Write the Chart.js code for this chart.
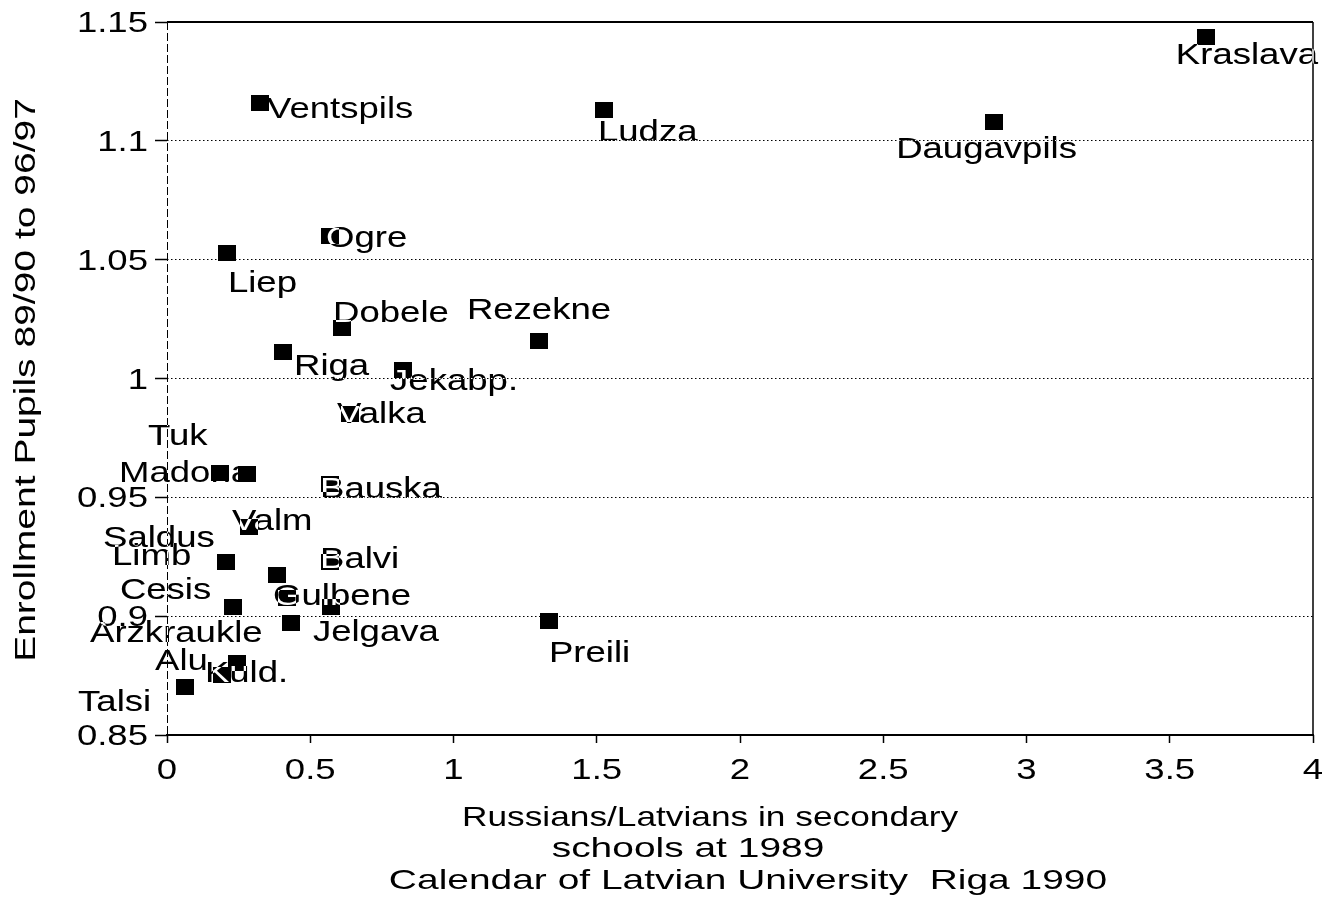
<!DOCTYPE html>
<html>
<head>
<meta charset="utf-8">
<title>Enrollment change vs Russian/Latvian ratio</title>
<script src="https://cdn.jsdelivr.net/npm/chart.js@4.4.1/dist/chart.umd.min.js"></script>
<style>
  html, body { margin: 0; padding: 0; background: #fff; }
  canvas { display: block; }
</style>
</head>
<body>
<canvas id="chart" width="1338" height="905"></canvas>
<script>
// District names as printed beside each marker
const districts = [
  'Kraslava', 'Ventspils', 'Ludza', 'Daugavpils', 'Ogre', 'Liep', 'Dobele',
  'Rezekne', 'Riga', 'Jekabp.', 'Valka', 'Madona', 'Tuk', 'Bauska', 'Valm',
  'Limb', 'Balvi', 'Saldus', 'Gulbene', 'Cesis', 'Jelgava', 'Arzkraukle',
  'Kuld.', 'Alu', 'Talsi', 'Preili'
];

// Russians/Latvians in secondary schools, 1989
const russianRatio = [
  3.626, 0.325, 1.525, 2.887, 0.569, 0.209, 0.611,
  1.298, 0.405, 0.824, 0.639, 0.185, 0.279, 0.569, 0.286,
  0.206, 0.569, 0.384, 0.419, 0.230, 0.572, 0.433,
  0.244, 0.192, 0.063, 1.333
];

// Enrollment ratio, pupils 89/90 to 96/97
const enrollmentChange = [
  1.1437, 1.1159, 1.1130, 1.1079, 1.0600, 1.0528, 1.0213,
  1.0158, 1.0112, 1.0036, 0.9851, 0.9602, 0.9598, 0.9556, 0.9375,
  0.9228, 0.9228, 0.9173, 0.9076, 0.9039, 0.9039, 0.8971,
  0.8803, 0.8753, 0.8702, 0.8980
];

const xTicks = [0, 0.5, 1, 1.5, 2, 2.5, 3, 3.5, 4];
const xTickLabels = ['0', '0.5', '1', '1.5', '2', '2.5', '3', '3.5', '4'];
const yTicks = [0.85, 0.9, 0.95, 1, 1.05, 1.1, 1.15];
const yTickLabels = ['0.85', '0.9', '0.95', '1', '1.05', '1.1', '1.15'];

const xTitleLines = [
  'Russians/Latvians in secondary',
  'schools at 1989',
  'Calendar of Latvian University  Riga 1990'
];
const yTitle = 'Enrollment Pupils 89/90 to 96/97';

// Label placement relative to each marker: [dx to left edge, dy to baseline] in px
const labelOffsets = [
  [-30, 27], [7, 15], [-6, 31], [-98, 36], [-4, 11], [1, 39], [-9, -6],
  [-72, -22], [11, 23], [-13, 20], [-13, 9], [-101, 9], [-99, -29], [-10, 14], [-17, 3],
  [-114, 3], [-10, 6], [-174, -28], [-14, 7], [-113, -8], [-18, 34], [-201, 19],
  [-32, 19], [-67, -5], [-107, 24], [0, 41]
];
// Names set beneath the markers (covered) rather than inverted over them
const labelsUnderMarkers = ['Ventspils', 'Madona', 'Alu'];

const FONT = '"Liberation Sans", Arial, Helvetica, sans-serif';
const STRETCH = 1.26;   // the printed typeface is wide; widen glyphs horizontally

// Filled square marker, slightly wider than tall
const marker = document.createElement('canvas');
marker.width = 18; marker.height = 16;
(function () {
  const m = marker.getContext('2d');
  m.fillStyle = '#000';
  m.fillRect(0, 0, 18, 16);
})();

function wideText(ctx, text, x, y, size, align, baseline, sx) {
  ctx.save();
  ctx.font = size + 'px ' + FONT;
  ctx.textAlign = align;
  ctx.textBaseline = baseline;
  ctx.translate(x, y);
  ctx.scale(sx || STRETCH, 1);
  ctx.fillText(text, 0, 0);
  ctx.restore();
}

const paperPlugin = {
  id: 'paper',
  beforeDraw(chart) {
    const ctx = chart.ctx;
    ctx.save();
    ctx.fillStyle = '#fff';
    ctx.fillRect(0, 0, chart.width, chart.height);
    ctx.restore();
  }
};

const framePlugin = {
  id: 'frame',
  beforeDatasetsDraw(chart) {
    const { ctx, chartArea: a } = chart;
    ctx.save();
    ctx.strokeStyle = '#000';
    // top and bottom
    ctx.lineWidth = 2;
    ctx.beginPath();
    ctx.moveTo(a.left, a.top); ctx.lineTo(a.right, a.top);
    ctx.moveTo(a.left - 1, a.bottom); ctx.lineTo(a.right + 1, a.bottom);
    ctx.stroke();
    // right
    ctx.lineWidth = 1.5;
    ctx.beginPath();
    ctx.moveTo(a.right, a.top); ctx.lineTo(a.right, a.bottom);
    ctx.stroke();
    // left axis, broken line
    ctx.lineWidth = 1;
    ctx.setLineDash([8, 3]);
    ctx.beginPath();
    ctx.moveTo(a.left + 0.5, a.top); ctx.lineTo(a.left + 0.5, a.bottom);
    ctx.stroke();
    ctx.restore();

    // tick labels and axis titles
    ctx.save();
    ctx.fillStyle = '#000';
    const xs = chart.scales.x, ys = chart.scales.y;
    yTicks.forEach((v, i) => {
      wideText(ctx, yTickLabels[i], a.left - 19, ys.getPixelForValue(v) + 2, 29, 'right', 'middle');
    });
    xTicks.forEach((v, i) => {
      wideText(ctx, xTickLabels[i], xs.getPixelForValue(v), a.bottom + 44, 29, 'center', 'alphabetic');
    });
    const centers = [710, 688, 748];
    const baselines = [826, 857, 889];
    const widen = [1.26, 1.39, 1.39];
    xTitleLines.forEach((t, i) => {
      wideText(ctx, t, centers[i], baselines[i], 28, 'center', 'alphabetic', widen[i]);
    });
    ctx.translate(27, 380);
    ctx.rotate(-Math.PI / 2);
    wideText(ctx, yTitle, 0, 0, 30, 'center', 'middle', 1.3);
    ctx.restore();

    // names that sit under their markers
    const meta = chart.getDatasetMeta(0);
    ctx.save();
    ctx.fillStyle = '#000';
    meta.data.forEach((pt, i) => {
      if (!labelsUnderMarkers.includes(districts[i])) return;
      const [dx, dy] = labelOffsets[i];
      wideText(ctx, districts[i], pt.x + dx, pt.y + dy, 29, 'left', 'alphabetic');
    });
    ctx.restore();
  }
};

// Remaining names, drawn inverting what lies beneath (white over markers)
const namePlugin = {
  id: 'names',
  afterDatasetsDraw(chart) {
    const ctx = chart.ctx;
    const meta = chart.getDatasetMeta(0);
    ctx.save();
    ctx.globalCompositeOperation = 'difference';
    ctx.fillStyle = '#fff';
    meta.data.forEach((pt, i) => {
      if (labelsUnderMarkers.includes(districts[i])) return;
      const [dx, dy] = labelOffsets[i];
      wideText(ctx, districts[i], pt.x + dx, pt.y + dy, 29, 'left', 'alphabetic');
    });
    ctx.restore();
  }
};

const points = russianRatio.map((x, i) => ({ x, y: enrollmentChange[i] }));

new Chart(document.getElementById('chart'), {
  type: 'scatter',
  data: {
    datasets: [{
      data: points,
      pointStyle: marker,
      pointRadius: 9,
      backgroundColor: '#000',
      borderColor: '#000'
    }]
  },
  options: {
    responsive: false,
    animation: false,
    events: [],
    layout: { padding: { left: 155, top: 22, right: 25, bottom: 162 } },
    plugins: { legend: { display: false }, tooltip: { enabled: false } },
    scales: {
      x: {
        type: 'linear', min: 0, max: 4,
        afterBuildTicks: s => { s.ticks = xTicks.map(v => ({ value: v })); },
        ticks: { display: false },
        grid: {
          drawOnChartArea: false, drawTicks: true, tickLength: 8,
          tickColor: '#000', tickWidth: 1.5
        },
        border: { display: false }
      },
      y: {
        type: 'linear', min: 0.85, max: 1.15,
        afterBuildTicks: s => { s.ticks = yTicks.map(v => ({ value: v })); },
        ticks: { display: false },
        grid: {
          drawOnChartArea: true, drawTicks: true, tickLength: 12,
          tickColor: '#000', tickWidth: 1.5, lineWidth: 1,
          color: c => (c.tick && (c.tick.value <= 0.851 || c.tick.value >= 1.149)) ? 'rgba(0,0,0,0)' : '#000'
        },
        border: { display: false, dash: [1.5, 2.5] }
      }
    }
  },
  plugins: [paperPlugin, framePlugin, namePlugin]
});
</script>
</body>
</html>
